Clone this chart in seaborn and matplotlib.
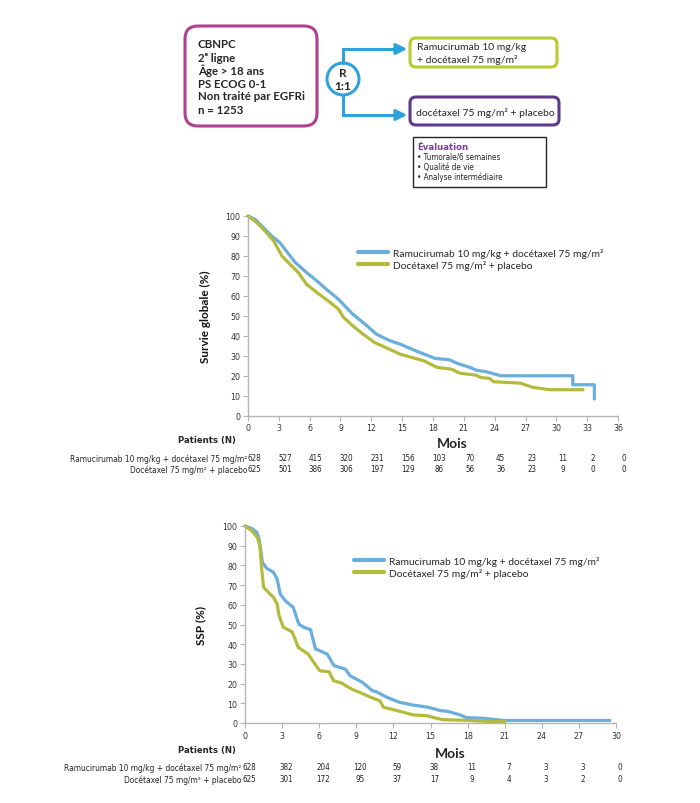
import matplotlib
matplotlib.use("Agg")
import matplotlib.pyplot as plt
import matplotlib.transforms as mtransforms
from matplotlib import font_manager
from matplotlib.patches import FancyBboxPatch, Circle, Rectangle
import seaborn as sns
import pandas as pd

# --- values ---
ARM_RAM = "Ramucirumab 10 mg/kg + docétaxel 75 mg/m²"
ARM_DOC = "Docétaxel 75 mg/m² + placebo"

# overall survival (%), by month
os_months_ram = [0, 0.7, 1.5, 2.3, 3.1, 3.6, 4.6, 5.7, 6.7, 7.7, 8.6, 9.1, 10.2, 11.4,
                 12.5, 13.7, 14.8, 16.7, 18.2, 19.6, 20.3, 21.6, 22.2, 23.2, 24.6,
                 31.6, 31.6, 33.7, 33.7]
os_pct_ram = [100, 98.3, 94.2, 90, 86.7, 83.3, 76.7, 71.7, 67.5, 63, 59.2, 56.7, 50.8, 45.8,
              40.8, 37.8, 35.8, 31.7, 28.7, 28, 26.3, 24.2, 22.8, 22, 20,
              20, 15.5, 15.5, 8.3]
os_months_doc = [0, 0.85, 1.65, 2.5, 2.95, 3.3, 4.1, 4.9, 5.7, 6.7, 8.0, 8.8, 9.3, 10.2,
                 11.2, 12.3, 13.6, 14.8, 17.1, 18.4, 19.8, 20.6, 22.2, 22.6, 23.5, 23.9,
                 26.5, 27.7, 29.4, 32.6]
os_pct_doc = [100, 96.7, 92.5, 87.5, 83.3, 80, 75.8, 71.7, 65.8, 61.7, 56.7, 53.3, 49.2, 45,
              40.8, 36.7, 33.7, 30.8, 27.5, 24.2, 23.3, 21.3, 20.3, 19.2, 18.7, 17,
              16.3, 14.2, 13, 13]

# progression-free survival (%), by month
pfs_months_ram = [0, 0.54, 0.95, 1.14, 1.3, 1.4, 1.76, 2.3, 2.6, 2.85, 3.25, 3.9, 4.35, 4.75,
                  5.3, 5.7, 6.65, 7.2, 8.1, 8.5, 9.5, 10.3, 10.6, 11.5, 12.5, 13.6, 14.8,
                  15.8, 16.4, 17.4, 17.9, 19.3, 20.9, 29.5]
pfs_pct_ram = [100, 98.8, 96.8, 93.4, 86.6, 81.5, 78.5, 76.5, 73.1, 65.5, 62.1, 58.7, 50.2, 48.6,
               47.4, 37.6, 35, 29.1, 27.4, 24, 20.6, 16.4, 15.9, 13, 10.5, 9.1, 8,
               6.3, 5.9, 4.1, 2.7, 2.4, 1.3, 1.3]
pfs_months_doc = [0, 0.54, 1.0, 1.2, 1.35, 1.5, 1.9, 2.3, 2.6, 2.75, 3.1, 3.8, 4.05, 4.3,
                  5.1, 5.65, 6.05, 6.8, 7.15, 7.8, 8.6, 9.4, 10.0, 10.5, 10.9, 11.2, 12.3,
                  13.6, 14.7, 15.5, 16.0, 17.7, 20.1, 21.0]
pfs_pct_doc = [100, 97.6, 94.2, 90, 78.2, 68.9, 66.3, 63.8, 60.4, 54.5, 48.6, 46.3, 42.6, 38.4,
               35, 30, 26.5, 26, 21.5, 20.3, 17.3, 15.2, 13.5, 12.2, 11.3, 8, 6.3,
               4.1, 3.7, 2.4, 1.7, 1.4, 0.7, 0.7]

# patients at risk
os_ticks = list(range(0, 37, 3))
os_risk_ram = [628, 527, 415, 320, 231, 156, 103, 70, 45, 23, 11, 2, 0]
os_risk_doc = [625, 501, 386, 306, 197, 129, 86, 56, 36, 23, 9, 0, 0]
pfs_ticks = list(range(0, 31, 3))
pfs_risk_ram = [628, 382, 204, 120, 59, 38, 11, 7, 3, 3, 0]
pfs_risk_doc = [625, 301, 172, 95, 37, 17, 9, 4, 3, 2, 0]

# study design text
inclusion = ["CBNPC", "2ᵉ ligne", "Âge > 18 ans", "PS ECOG 0-1", "Non traité par EGFRi", "n = 1253"]
evaluation = ["• Tumorale/6 semaines", "• Qualité de vie", "• Analyse intermédiaire"]

BLUE = "#6aaedb"
GREEN = "#b4bb3c"
W, H = 700, 804

sns.set_theme(style="white")
plt.rcParams["font.family"] = ["Lato", "DejaVu Sans"]

# pick a condensed face for the small print if one is installed
fonts = font_manager.fontManager.ttflist
names = {f.name for f in fonts}
if "Liberation Sans Narrow" in names:
    NARROW = dict(family="Liberation Sans Narrow")
elif any(f.name == "DejaVu Sans" and f.stretch == "condensed" for f in fonts):
    NARROW = dict(family="DejaVu Sans", stretch="condensed")
elif "Roboto Condensed" in names:
    NARROW = dict(family="Roboto Condensed")
else:
    NARROW = dict(family="Liberation Sans")

fig = plt.figure(figsize=(W / 100, H / 100), dpi=100)


def fy(ypx):
    return 1 - ypx / H


def px_axes(left, top, right, bottom):
    return fig.add_axes([left / W, 1 - bottom / H, (right - left) / W, (bottom - top) / H])


# ---- study design diagram (pixel space) ----
dax = fig.add_axes([0, 0, 1, 1])
dax.set_xlim(0, W)
dax.set_ylim(H, 0)
dax.axis("off")

dax.add_patch(FancyBboxPatch((185, 27), 132, 100, boxstyle="round,pad=0,rounding_size=13",
                             fc="white", ec="#b03f8f", lw=2.2))
for i, line in enumerate(inclusion):
    dax.text(198, 45 + i * 13, line, fontsize=8.3, fontweight="bold", va="center",
             family=["Lato", "DejaVu Sans"])

arrow_blue = "#2fa3d9"
dax.plot([343, 343, 400], [64, 50, 50], color=arrow_blue, lw=2.2, solid_joinstyle="miter")
dax.plot([343, 343, 400], [96, 116, 116], color=arrow_blue, lw=2.2, solid_joinstyle="miter")
for yy in (50, 116):
    dax.annotate("", xy=(410, yy), xytext=(396, yy),
                 arrowprops=dict(arrowstyle="-|>", color=arrow_blue, lw=2.2, mutation_scale=16))
dax.add_patch(Circle((343, 80), 16, fc="white", ec=arrow_blue, lw=2.2))
dax.text(343, 73.5, "R", fontsize=8.5, fontweight="bold", ha="center", va="center")
dax.text(343, 87, "1:1", fontsize=8.5, fontweight="bold", ha="center", va="center")

dax.add_patch(FancyBboxPatch((410, 39), 147, 29, boxstyle="round,pad=0,rounding_size=6",
                             fc="white", ec="#b6cc2e", lw=2.2))
dax.text(417, 48, "Ramucirumab 10 mg/kg", fontsize=7.5, va="center")
dax.text(417, 60, "+ docétaxel 75 mg/m²", fontsize=7.5, va="center")
dax.add_patch(FancyBboxPatch((410, 98), 149, 28, boxstyle="round,pad=0,rounding_size=6",
                             fc="white", ec="#5e3a8c", lw=2.2))
dax.text(416, 112.5, "docétaxel 75 mg/m² + placebo", fontsize=7.5, va="center")

dax.add_patch(Rectangle((413, 138), 133, 50, fc="white", ec="#222222", lw=1))
dax.text(417, 147, "Évaluation", fontsize=6.8, fontweight="bold", color="#7b3f99",
         va="center", **NARROW)
for i, line in enumerate(evaluation):
    dax.text(417, 157.5 + i * 10, line, fontsize=5.8, va="center", **NARROW)


# ---- Kaplan-Meier panels ----
def km_panel(ax, m_ram, p_ram, m_doc, p_doc, ticks, ylabel, legend_anchor):
    df = pd.concat([
        pd.DataFrame({"Mois": m_ram, "pct": p_ram, "bras": ARM_RAM}),
        pd.DataFrame({"Mois": m_doc, "pct": p_doc, "bras": ARM_DOC}),
    ])
    sns.lineplot(data=df, x="Mois", y="pct", hue="bras", hue_order=[ARM_RAM, ARM_DOC],
                 palette={ARM_RAM: BLUE, ARM_DOC: GREEN}, estimator=None, sort=False,
                 lw=2.3, clip_on=False, ax=ax)
    ax.set_xlim(0, ticks[-1])
    ax.set_ylim(0, 100)
    ax.set_xticks(ticks)
    ax.set_yticks(range(0, 101, 10))
    sns.despine(ax=ax)
    for side in ("left", "bottom"):
        ax.spines[side].set_color("#b5b5b5")
        ax.spines[side].set_linewidth(1)
    ax.tick_params(direction="out", length=3.5, width=0.8, color="#b5b5b5",
                   labelsize=6.3, labelcolor="#333333", pad=2, bottom=True, left=True)
    for lab in ax.get_xticklabels() + ax.get_yticklabels():
        lab.set_family(NARROW["family"])
        lab.set_stretch(NARROW.get("stretch", "normal"))
    ax.set_ylabel(ylabel, fontsize=8.5, fontweight="bold", color="#111111")
    ax.set_xlabel("")
    sns.move_legend(ax, "upper left", bbox_to_anchor=legend_anchor, title=None, frameon=False,
                    fontsize=7.4, handlelength=2.9, handletextpad=0.5, labelspacing=0.2,
                    borderpad=0, borderaxespad=0)
    for h in ax.get_legend().get_lines():
        h.set_linewidth(3)


def risk_table(ax, ticks, risk_ram, risk_doc, y_patients, y_rows, label_right, mois_x, shift):
    # numbers sit on the month ticks, nudged right as in the original layout
    trans = mtransforms.blended_transform_factory(ax.transData, fig.transFigure)
    trans = trans + mtransforms.ScaledTranslation(shift / 100, 0, fig.dpi_scale_trans)
    fig.text(207 / W, fy(y_patients), "Patients (N)", fontsize=6.8,
             fontweight="bold", ha="center", va="center", **NARROW)
    fig.text(mois_x / W, fy(y_patients + 3), "Mois", fontsize=10, fontweight="bold",
             ha="center", va="center")
    for label, counts, yy in ((ARM_RAM, risk_ram, y_rows[0]), (ARM_DOC, risk_doc, y_rows[1])):
        fig.text(label_right / W, fy(yy), label, fontsize=6.0, ha="right", va="center",
                 **NARROW)
        for t, n in zip(ticks, counts):
            ax.text(t, fy(yy), str(n), transform=trans, fontsize=5.8, ha="center",
                    va="center", color="#222222", **NARROW)


ax1 = px_axes(248, 217, 618, 416.7)
km_panel(ax1, os_months_ram, os_pct_ram, os_months_doc, os_pct_doc, os_ticks,
         "Survie globale (%)", (0.297, 0.842))
ax1.yaxis.set_label_coords(-0.10, 0.5)
risk_table(ax1, os_ticks, os_risk_ram, os_risk_doc, 441, (459, 470), 247, 452, 6)

ax2 = px_axes(245, 527, 616, 724)
km_panel(ax2, pfs_months_ram, pfs_pct_ram, pfs_months_doc, pfs_pct_doc, pfs_ticks,
         "SSP (%)", (0.294, 0.85))
ax2.yaxis.set_label_coords(-0.105, 0.5)
risk_table(ax2, pfs_ticks, pfs_risk_ram, pfs_risk_doc, 751, (768, 780), 241, 450, 4)

fig.savefig("out.png", dpi=100, facecolor="white")
